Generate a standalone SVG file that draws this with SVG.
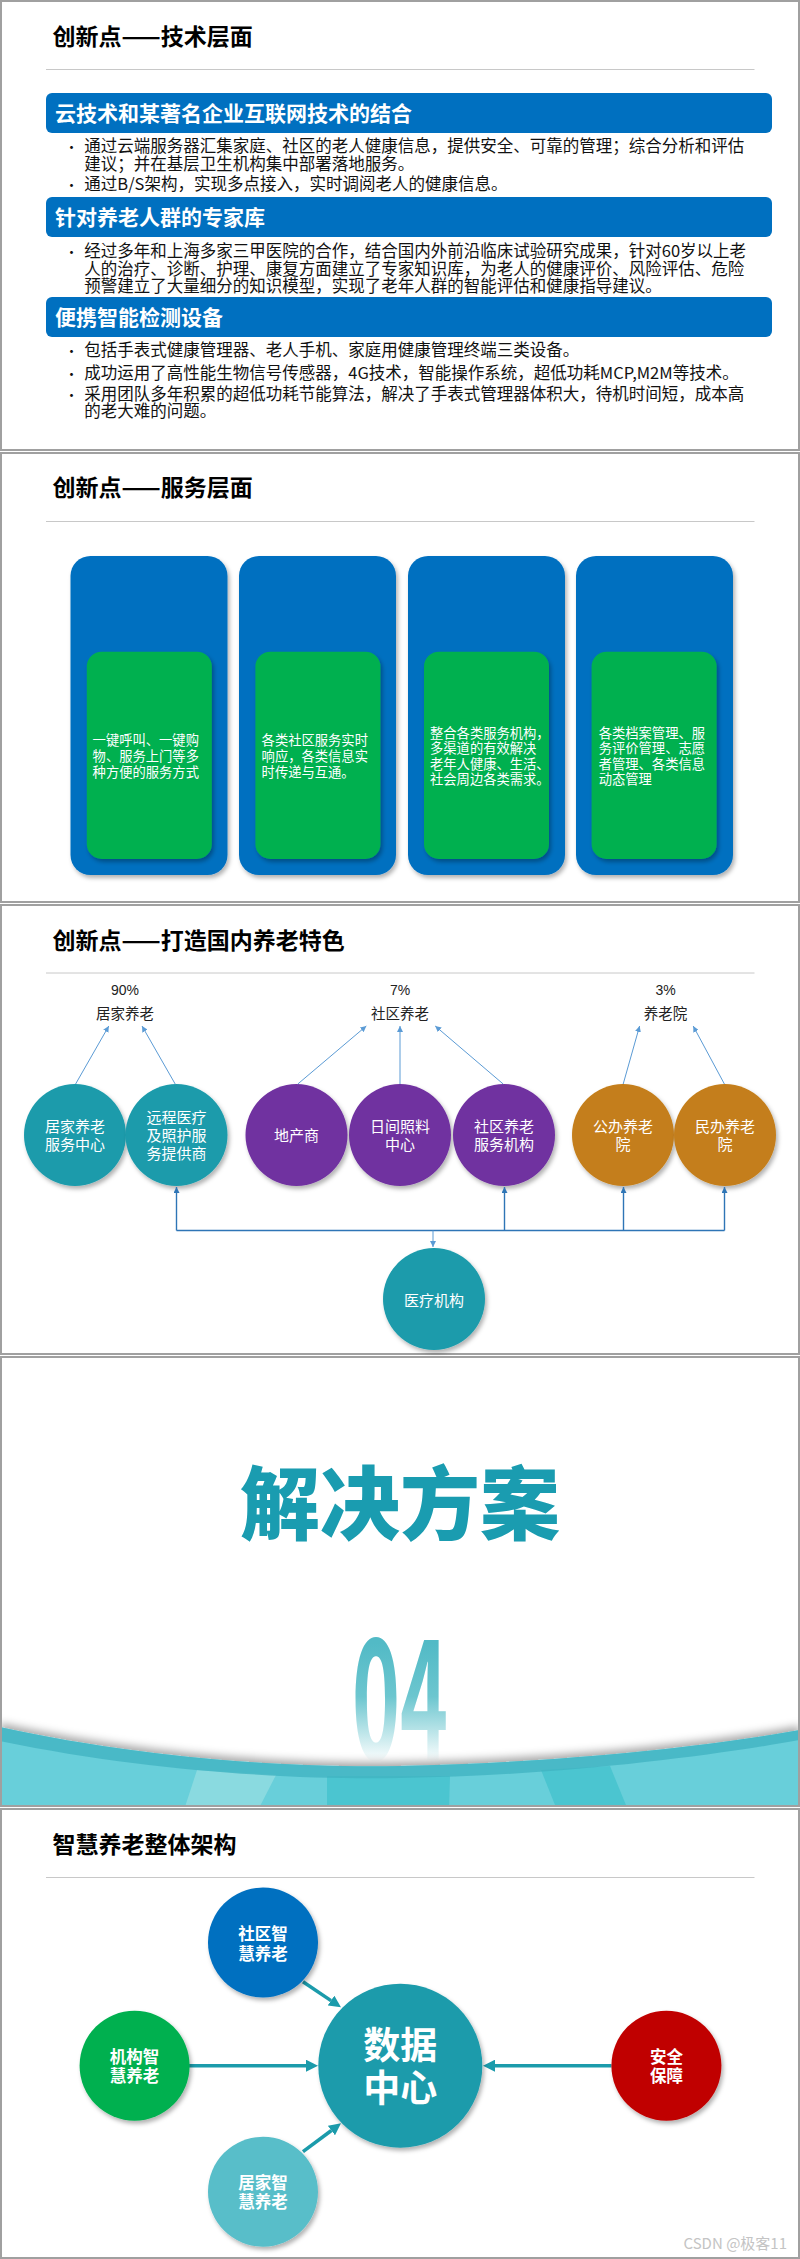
<svg xmlns="http://www.w3.org/2000/svg" width="800" height="2259" viewBox="0 0 800 2259">
<defs>
<style>
text{font-family:'Noto Sans CJK SC','Noto Sans',sans-serif;}
.frame{fill:#fff;stroke:#A0A0A0;stroke-width:2;}
.fstroke{fill:none;stroke:#A0A0A0;stroke-width:2;}
.title{font-size:23px;font-weight:bold;fill:#000;}
.sep{stroke:#C8C8C8;stroke-width:1;}
.bar{fill:#0070C0;}
.bartxt{font-size:21px;font-weight:bold;fill:#fff;}
.bl{font-size:16.5px;fill:#111;}
.dot{font-size:14px;fill:#111;text-anchor:middle;}
.card{fill:#0070C0;}
.inner{fill:#00B050;}
.ctxt{font-size:13.3px;fill:#fff;}
.lbl{font-size:14.5px;fill:#222;text-anchor:middle;}
.pct{font-family:'Liberation Sans',sans-serif;font-size:14px;fill:#222;text-anchor:middle;}
.ct{font-size:15px;fill:#fff;text-anchor:middle;}
.teal{fill:#1B9BAB;}
.purple{fill:#7030A0;}
.orange{fill:#C47E1A;}
.up{stroke:#5B9BD5;stroke-width:1;fill:none;}
.bus{stroke:#2E75B6;stroke-width:1.4;fill:none;}
.big{stroke:#1B9BAB;stroke-width:3.5;fill:none;}
.nt{font-size:16.5px;font-weight:bold;fill:#fff;text-anchor:middle;}
</style>
<filter id="sh" x="-20%" y="-20%" width="150%" height="150%">
<feDropShadow dx="2" dy="3" stdDeviation="2" flood-color="#000" flood-opacity="0.3"/>
</filter>
<filter id="wsh" x="-10%" y="-50%" width="120%" height="200%">
<feDropShadow dx="0" dy="-4" stdDeviation="4" flood-color="#000" flood-opacity="0.35"/>
</filter>
<marker id="mUp" viewBox="0 0 6 6" markerWidth="6" markerHeight="6" refX="6" refY="3" orient="auto" markerUnits="userSpaceOnUse">
<path d="M0,0 L6,3 L0,6 z" fill="#5B9BD5"/>
</marker>
<marker id="mBus" viewBox="0 0 6 6" markerWidth="6" markerHeight="6" refX="6" refY="3" orient="auto" markerUnits="userSpaceOnUse">
<path d="M0,0 L6,3 L0,6 z" fill="#2E75B6"/>
</marker>
<marker id="mBig" viewBox="0 0 12 12" markerWidth="12" markerHeight="12" refX="0" refY="6" orient="auto" markerUnits="userSpaceOnUse">
<path d="M0,0 L12,6 L0,12 z" fill="#1B9BAB"/>
</marker>
<linearGradient id="g04" x1="0" y1="1643" x2="0" y2="1762" gradientUnits="userSpaceOnUse">
<stop offset="0" stop-color="#52BAC6"/>
<stop offset="0.45" stop-color="#6CC6CF"/>
<stop offset="1" stop-color="#FFFFFF"/>
</linearGradient>
<clipPath id="c4"><rect x="2" y="1358" width="796" height="447"/></clipPath>
</defs>

<!-- Slide 1 -->
<g id="slide1">
<rect class="frame" x="1" y="1" width="798" height="449"/>
<text class="title" x="52.5" y="45">创新点——技术层面</text>
<line class="sep" x1="46" y1="69.5" x2="754.5" y2="69.5"/>
<g id="s1-bar1">
<rect class="bar" x="46" y="93" width="726" height="40" rx="6"/>
<text class="bartxt" x="55" y="121">云技术和某著名企业互联网技术的结合</text>
</g>
<g id="s1-list1">
<text class="dot" x="71.5" y="152">•</text>
<text class="bl" x="84.3" y="152">通过云端服务器汇集家庭、社区的老人健康信息，提供安全、可靠的管理；综合分析和评估</text>
<text class="bl" x="84.3" y="169.6">建议；并在基层卫生机构集中部署落地服务。</text>
<text class="dot" x="71.5" y="190.3">•</text>
<text class="bl" x="84.3" y="190.3">通过B/S架构，实现多点接入，实时调阅老人的健康信息。</text>
</g>
<g id="s1-bar2">
<rect class="bar" x="46" y="197" width="726" height="40" rx="6"/>
<text class="bartxt" x="55" y="225">针对养老人群的专家库</text>
</g>
<g id="s1-list2">
<text class="dot" x="71.5" y="257">•</text>
<text class="bl" x="84.3" y="257">经过多年和上海多家三甲医院的合作，结合国内外前沿临床试验研究成果，针对60岁以上老</text>
<text class="bl" x="84.3" y="274.6">人的治疗、诊断、护理、康复方面建立了专家知识库，为老人的健康评价、风险评估、危险</text>
<text class="bl" x="84.3" y="292">预警建立了大量细分的知识模型，实现了老年人群的智能评估和健康指导建议。</text>
</g>
<g id="s1-bar3">
<rect class="bar" x="46" y="297" width="726" height="40" rx="6"/>
<text class="bartxt" x="55" y="325">便携智能检测设备</text>
</g>
<g id="s1-list3">
<text class="dot" x="71.5" y="355.6">•</text>
<text class="bl" x="84.3" y="355.6">包括手表式健康管理器、老人手机、家庭用健康管理终端三类设备。</text>
<text class="dot" x="71.5" y="378.6">•</text>
<text class="bl" x="84.3" y="378.6">成功运用了高性能生物信号传感器，4G技术，智能操作系统，超低功耗MCP,M2M等技术。</text>
<text class="dot" x="71.5" y="399.6">•</text>
<text class="bl" x="84.3" y="399.6">采用团队多年积累的超低功耗节能算法，解决了手表式管理器体积大，待机时间短，成本高</text>
<text class="bl" x="84.3" y="417.3">的老大难的问题。</text>
</g>
</g>

<!-- Slide 2 -->
<g id="slide2">
<rect class="frame" x="1" y="453" width="798" height="449"/>
<text class="title" x="52.5" y="496">创新点——服务层面</text>
<line class="sep" x1="46" y1="521.5" x2="754.5" y2="521.5"/>
<g id="s2-card1">
<rect class="card" x="70.5" y="556" width="157" height="319" rx="20" filter="url(#sh)"/>
<rect class="inner" x="86.8" y="651.7" width="125" height="207.3" rx="15" filter="url(#sh)"/>
<text class="ctxt" x="92.6" y="745">一键呼叫、一键购</text>
<text class="ctxt" x="92.6" y="761">物、服务上门等多</text>
<text class="ctxt" x="92.6" y="777">种方便的服务方式</text>
</g>
<g id="s2-card2">
<rect class="card" x="239" y="556" width="157" height="319" rx="20" filter="url(#sh)"/>
<rect class="inner" x="255.4" y="651.7" width="125" height="207.3" rx="15" filter="url(#sh)"/>
<text class="ctxt" x="261.6" y="745">各类社区服务实时</text>
<text class="ctxt" x="261.6" y="761">响应，各类信息实</text>
<text class="ctxt" x="261.6" y="777">时传递与互通。</text>
</g>
<g id="s2-card3">
<rect class="card" x="408" y="556" width="157" height="319" rx="20" filter="url(#sh)"/>
<rect class="inner" x="424" y="651.7" width="125" height="207.3" rx="15" filter="url(#sh)"/>
<text class="ctxt" x="430" y="737.7">整合各类服务机构，</text>
<text class="ctxt" x="430" y="753.3">多渠道的有效解决</text>
<text class="ctxt" x="430" y="769">老年人健康、生活、</text>
<text class="ctxt" x="430" y="784.3">社会周边各类需求。</text>
</g>
<g id="s2-card4">
<rect class="card" x="576" y="556" width="157" height="319" rx="20" filter="url(#sh)"/>
<rect class="inner" x="591.6" y="651.7" width="125" height="207.3" rx="15" filter="url(#sh)"/>
<text class="ctxt" x="598.7" y="737.7">各类档案管理、服</text>
<text class="ctxt" x="598.7" y="753.3">务评价管理、志愿</text>
<text class="ctxt" x="598.7" y="769">者管理、各类信息</text>
<text class="ctxt" x="598.7" y="784.3">动态管理</text>
</g>
</g>

<!-- Slide 3 -->
<g id="slide3">
<rect class="frame" x="1" y="905" width="798" height="449"/>
<text class="title" x="52.5" y="948.5">创新点——打造国内养老特色</text>
<line class="sep" x1="46" y1="973" x2="754.5" y2="973"/>
<g id="s3-home">
<text class="pct" x="125" y="994.5">90%</text>
<text class="lbl" x="125" y="1018.6">居家养老</text>
</g>
<g id="s3-community">
<text class="pct" x="400" y="994.5">7%</text>
<text class="lbl" x="400" y="1018.6">社区养老</text>
</g>
<g id="s3-nursing">
<text class="pct" x="665.6" y="994.5">3%</text>
<text class="lbl" x="665.6" y="1018.6">养老院</text>
</g>
<g id="s3-c1">
<circle class="teal" cx="75" cy="1135" r="51" filter="url(#sh)"/>
<text class="ct" x="75" y="1132.4">居家养老</text>
<text class="ct" x="75" y="1150">服务中心</text>
</g>
<g id="s3-c2">
<circle class="teal" cx="176.5" cy="1135" r="51" filter="url(#sh)"/>
<text class="ct" x="176.5" y="1123.4">远程医疗</text>
<text class="ct" x="176.5" y="1141">及照护服</text>
<text class="ct" x="176.5" y="1159">务提供商</text>
</g>
<g id="s3-c3">
<circle class="purple" cx="296.5" cy="1135" r="51" filter="url(#sh)"/>
<text class="ct" x="296.5" y="1141">地产商</text>
</g>
<g id="s3-c4">
<circle class="purple" cx="400" cy="1135" r="51" filter="url(#sh)"/>
<text class="ct" x="400" y="1132.4">日间照料</text>
<text class="ct" x="400" y="1150">中心</text>
</g>
<g id="s3-c5">
<circle class="purple" cx="504" cy="1135" r="51" filter="url(#sh)"/>
<text class="ct" x="504" y="1132.4">社区养老</text>
<text class="ct" x="504" y="1150">服务机构</text>
</g>
<g id="s3-c6">
<circle class="orange" cx="623" cy="1135" r="51" filter="url(#sh)"/>
<text class="ct" x="623" y="1132.4">公办养老</text>
<text class="ct" x="623" y="1150">院</text>
</g>
<g id="s3-c7">
<circle class="orange" cx="725" cy="1135" r="51" filter="url(#sh)"/>
<text class="ct" x="725" y="1132.4">民办养老</text>
<text class="ct" x="725" y="1150">院</text>
</g>
<g id="s3-medical">
<circle class="teal" cx="434" cy="1299" r="51" filter="url(#sh)"/>
<text class="ct" x="434" y="1305.7">医疗机构</text>
</g>
<g id="s3-connectors">
<line class="up" x1="75.6" y1="1084" x2="108.8" y2="1026" marker-end="url(#mUp)"/>
<line class="up" x1="175.2" y1="1084" x2="142" y2="1026" marker-end="url(#mUp)"/>
<line class="up" x1="297.8" y1="1084" x2="366.3" y2="1026" marker-end="url(#mUp)"/>
<line class="up" x1="400" y1="1084" x2="400" y2="1026" marker-end="url(#mUp)"/>
<line class="up" x1="503.2" y1="1084" x2="435.2" y2="1026" marker-end="url(#mUp)"/>
<line class="up" x1="623.2" y1="1084" x2="639.6" y2="1026" marker-end="url(#mUp)"/>
<line class="up" x1="724.4" y1="1084" x2="693.2" y2="1026" marker-end="url(#mUp)"/>
<line class="bus" x1="176.5" y1="1230.5" x2="724.5" y2="1230.5"/>
<line class="bus" x1="176.5" y1="1230.5" x2="176.5" y2="1187" marker-end="url(#mBus)"/>
<line class="bus" x1="504.5" y1="1230.5" x2="504.5" y2="1187" marker-end="url(#mBus)"/>
<line class="bus" x1="623.5" y1="1230.5" x2="623.5" y2="1187" marker-end="url(#mBus)"/>
<line class="bus" x1="724.5" y1="1230.5" x2="724.5" y2="1187" marker-end="url(#mBus)"/>
<line class="up" x1="433" y1="1230.5" x2="433" y2="1247" marker-end="url(#mUp)"/>
</g>
</g>

<!-- Slide 4 -->
<g id="slide4">
<rect class="frame" x="1" y="1357" width="798" height="449"/>
<text x="400" y="1533" text-anchor="middle" font-size="80" font-weight="900" fill="#1A9CB0">解决方案</text>
<text x="400" y="1760" text-anchor="middle" font-family="'Liberation Sans',sans-serif" font-size="167" font-weight="bold" fill="url(#g04)" textLength="96" lengthAdjust="spacingAndGlyphs">04</text>
<g clip-path="url(#c4)">
<path d="M0,1727 C150,1760 300,1768 400,1766 C550,1763 700,1748 800,1730 L800,1810 L0,1810 Z" fill="#68CFDA" filter="url(#wsh)"/>
<polygon points="197,1770 276,1775 258,1810 184,1810" fill="#8ADAE0"/>
<polygon points="327,1776 450,1776 449,1810 327,1810" fill="#4BC5D0"/>
<polygon points="541,1770 610,1766 628,1810 557,1810" fill="#4BC5D0"/>
<path d="M0,1727 C150,1760 300,1768 400,1766 C550,1763 700,1748 800,1730 L800,1740 C700,1758 550,1776 400,1778 C300,1780 150,1772 0,1741 Z" fill="#3FB2C0" opacity="0.75"/>
</g>
<rect class="fstroke" x="1" y="1357" width="798" height="449"/>
</g>

<!-- Slide 5 -->
<g id="slide5">
<rect class="frame" x="1" y="1809" width="798" height="449"/>
<text class="title" x="52.5" y="1852.5">智慧养老整体架构</text>
<line class="sep" x1="46" y1="1877.5" x2="754.5" y2="1877.5"/>
<g id="s5-connectors">
<line class="big" x1="189" y1="2065.7" x2="306" y2="2065.7" marker-end="url(#mBig)"/>
<line class="big" x1="611.5" y1="2065.7" x2="495" y2="2065.7" marker-end="url(#mBig)"/>
<line class="big" x1="303" y1="1981.7" x2="331" y2="2000.6" marker-end="url(#mBig)"/>
<line class="big" x1="303" y1="2151.7" x2="331.4" y2="2130.5" marker-end="url(#mBig)"/>
</g>
<g id="s5-community">
<circle cx="263" cy="1942.5" r="55" fill="#0070C0" filter="url(#sh)"/>
<text class="nt" x="263" y="1939.6">社区智</text>
<text class="nt" x="263" y="1959.6">慧养老</text>
</g>
<g id="s5-institution">
<circle cx="134.6" cy="2065.7" r="55" fill="#00B050" filter="url(#sh)"/>
<text class="nt" x="134.6" y="2062.8">机构智</text>
<text class="nt" x="134.6" y="2082">慧养老</text>
</g>
<g id="s5-datacenter">
<circle cx="400.3" cy="2065.7" r="82" fill="#1B9BAB" filter="url(#sh)"/>
<text x="400.3" y="2059" text-anchor="middle" font-size="37" font-weight="bold" fill="#fff">数据</text>
<text x="400.3" y="2102.3" text-anchor="middle" font-size="37" font-weight="bold" fill="#fff">中心</text>
</g>
<g id="s5-security">
<circle cx="666.4" cy="2065.7" r="55" fill="#C00000" filter="url(#sh)"/>
<text class="nt" x="666.4" y="2062.8">安全</text>
<text class="nt" x="666.4" y="2082">保障</text>
</g>
<g id="s5-home">
<circle cx="263" cy="2191.7" r="55" fill="#58BEC9" filter="url(#sh)"/>
<text class="nt" x="263" y="2188.6">居家智</text>
<text class="nt" x="263" y="2208">慧养老</text>
</g>
<text x="787" y="2249" text-anchor="end" font-size="15" fill="#C4C4C4">CSDN @极客11</text>
</g>
</svg>
